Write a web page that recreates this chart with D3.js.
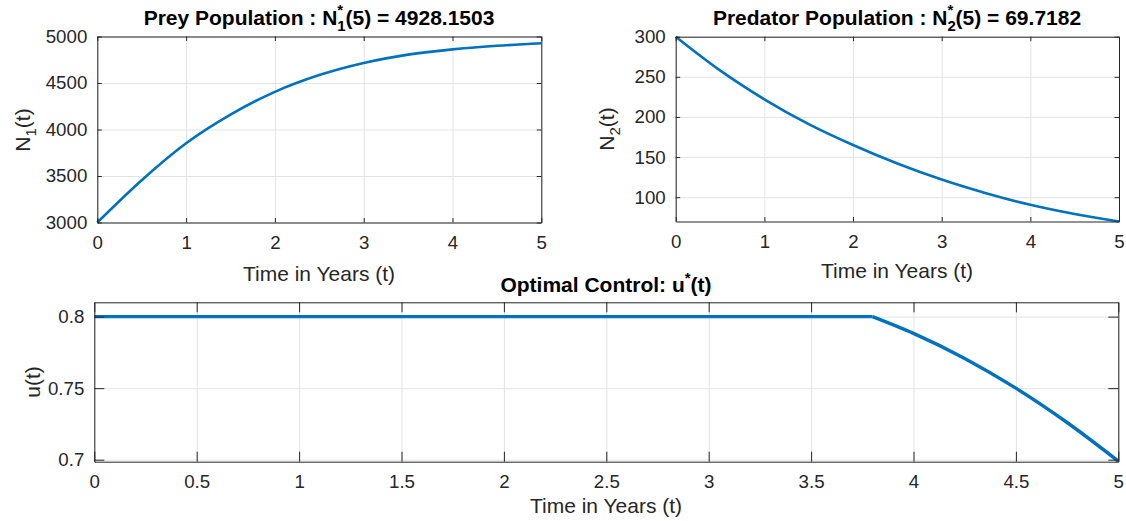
<html>
<head>
  <script src="https://cdnjs.cloudflare.com/ajax/libs/d3/7.8.5/d3.min.js"></script>
  <style>
    body { margin: 0; background: #fff; }
    text { font-family: "Liberation Sans", Arial, sans-serif; fill: #262626; }
    .title { font-weight: bold; fill: #000; }
  </style>
</head>
<body>
  <svg id="fig" width="1126" height="521"></svg>
  <script>
    // prey N1(t)
    var tPrey = [0, 0.5, 1, 1.5, 2, 2.5, 3, 3.5, 4, 4.5, 5];
    var prey = [3000, 3455, 3852, 4160, 4405, 4585, 4715, 4805, 4862, 4900, 4928.15];
    // predator N2(t)
    var tPred = [0, 0.5, 1, 1.5, 2, 2.5, 3, 3.5, 4, 4.5, 5];
    var pred = [300, 258, 222, 191, 165, 142, 122, 105, 90.5, 79, 69.72];
    // control u(t): flat at 0.8 until t = 3.8, then decreasing
    var tCtrl = [0, 3.8, 4, 4.25, 4.5, 4.75, 5];
    var ctrl = [0.8, 0.8, 0.7883, 0.7708, 0.75, 0.726, 0.699];

    var xTicksTop = [0, 1, 2, 3, 4, 5];
    var preyTicks = [3000, 3500, 4000, 4500, 5000];
    var predTicks = [100, 150, 200, 250, 300];
    var xTicksBottom = [0, 0.5, 1, 1.5, 2, 2.5, 3, 3.5, 4, 4.5, 5];
    var ctrlTicks = [0.7, 0.75, 0.8];

    var svg = d3.select("#fig");
    var blue = "#0072BD";
    var tickFont = "18.7px", labFont = "21px";

    function panel(o) {
      var x = d3.scaleLinear().domain(o.xdom).range([o.left, o.right]);
      var y = d3.scaleLinear().domain(o.ydom).range([o.bottom, o.top]);
      var g = svg.append("g");
      var w = o.right - o.left, h = o.bottom - o.top;

      // grid
      g.append("g").attr("transform", "translate(0," + o.bottom + ")")
        .call(d3.axisBottom(x).tickValues(o.xticks).tickSize(-h).tickFormat(""))
        .call(s => s.select(".domain").remove())
        .selectAll("line").attr("stroke", "#e3e3e3");
      g.append("g").attr("transform", "translate(" + o.left + ",0)")
        .call(d3.axisLeft(y).tickValues(o.yticks).tickSize(-w).tickFormat(""))
        .call(s => s.select(".domain").remove())
        .selectAll("line").attr("stroke", "#e3e3e3");

      // data line (optionally straight up to index o.split, smooth afterwards)
      var pts = o.t.map((t, i) => [t, o.v[i]]);
      var pieces = o.split == null ? [[pts, d3.curveMonotoneX]]
        : [[pts.slice(0, o.split + 1), d3.curveLinear], [pts.slice(o.split), d3.curveMonotoneX]];
      pieces.forEach(function (p) {
        var line = d3.line().x(d => x(d[0])).y(d => y(d[1])).curve(p[1]);
        g.append("path").datum(p[0]).attr("d", line).attr("fill", "none")
          .attr("stroke", blue).attr("stroke-width", o.lw).attr("stroke-linejoin", "round");
      });

      // box + inward ticks on all four sides
      var tl = o.tick;
      var axB = d3.axisBottom(x).tickValues(o.xticks).tickSizeInner(-tl).tickSizeOuter(0).tickFormat(d3.format("")).tickPadding(13.5);
      var axT = d3.axisTop(x).tickValues(o.xticks).tickSizeInner(-tl).tickSizeOuter(0).tickFormat("");
      var axL = d3.axisLeft(y).tickValues(o.yticks).tickSizeInner(-tl).tickSizeOuter(0).tickFormat(o.yfmt || d3.format("")).tickPadding(10);
      var axR = d3.axisRight(y).tickValues(o.yticks).tickSizeInner(-tl).tickSizeOuter(0).tickFormat("");

      [[axB, "translate(0," + o.bottom + ")"], [axT, "translate(0," + o.top + ")"],
       [axL, "translate(" + o.left + ",0)"], [axR, "translate(" + o.right + ",0)"]].forEach(function (a) {
        var s = g.append("g").attr("transform", a[1]).call(a[0]);
        s.select(".domain").attr("stroke", "#262626");
        s.selectAll("line").attr("stroke", "#262626");
        s.selectAll("text").attr("fill", "#262626").style("font-size", tickFont)
          .style("font-family", "'Liberation Sans', Arial, sans-serif");
      });
    }

    panel({ left: 97.3, right: 541.3, top: 36.5, bottom: 222.5, xdom: [0, 5], ydom: [3000, 5000],
      xticks: xTicksTop, yticks: preyTicks, t: tPrey, v: prey, lw: 2.6, tick: 4.5 });
    panel({ left: 675.7, right: 1119, top: 36.7, bottom: 221.5, xdom: [0, 5], ydom: [69.7182, 300],
      xticks: xTicksTop, yticks: predTicks, t: tPred, v: pred, lw: 2.6, tick: 4.5 });
    panel({ left: 94.3, right: 1118.3, top: 302.3, bottom: 461.7, xdom: [0, 5], ydom: [0.6986, 0.81],
      xticks: xTicksBottom, yticks: ctrlTicks, t: tCtrl, v: ctrl, lw: 3.4, tick: 10, split: 1,
      yfmt: d => d3.format("")(+d.toFixed(2)) });

    // titles with N_k^* style marks
    function starTitle(cx, cy, pre, sub, post) {
      var t = svg.append("text").attr("class", "title").attr("x", cx).attr("y", cy)
        .attr("text-anchor", "middle").style("font-size", "21px");
      t.append("tspan").text(pre);
      if (sub) {
        t.append("tspan").attr("dy", 6).style("font-size", "15px").text(sub);
        t.append("tspan").attr("dx", -8.3).attr("dy", -16).style("font-size", "15px").text("*");
        t.append("tspan").attr("dx", 2.3).attr("dy", 10).text(post);
      } else {
        t.append("tspan").attr("dy", -9).style("font-size", "15px").text("*");
        t.append("tspan").attr("dy", 9).text(post);
      }
    }
    starTitle(319, 25, "Prey Population : N", "1", "(5) = 4928.1503");
    starTitle(897, 25, "Predator Population : N", "2", "(5) = 69.7182");
    starTitle(606, 292, "Optimal Control: u", null, "(t)");

    // x labels
    [[319, 280.5], [897, 277.5], [606, 512.5]].forEach(function (p) {
      svg.append("text").attr("x", p[0]).attr("y", p[1]).attr("text-anchor", "middle")
        .style("font-size", labFont).text("Time in Years (t)");
    });

    // y labels
    function yLabel(x, cy, main, sub) {
      var t = svg.append("text").attr("transform", "translate(" + x + "," + cy + ") rotate(-90)")
        .attr("text-anchor", "middle").style("font-size", labFont);
      t.append("tspan").text(main);
      if (sub) {
        t.append("tspan").attr("dy", 6).style("font-size", "15px").text(sub);
        t.append("tspan").attr("dy", -6).text("(t)");
      }
    }
    yLabel(29.5, 130, "N", "1");
    yLabel(613.5, 129, "N", "2");
    yLabel(40, 382, "u(t)", null);
  </script>
</body>
</html>
